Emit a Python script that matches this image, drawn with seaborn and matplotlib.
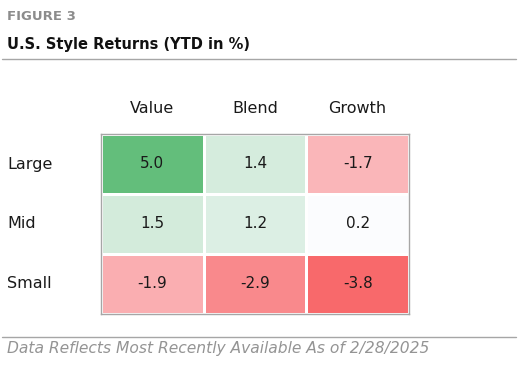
import numpy as np
import pandas as pd
import matplotlib.pyplot as plt
import seaborn as sns
from matplotlib.colors import LinearSegmentedColormap, TwoSlopeNorm
from matplotlib.lines import Line2D

sizes = ["Large", "Mid", "Small"]
styles = ["Value", "Blend", "Growth"]
value_col = [5.0, 1.5, -1.9]
blend_col = [1.4, 1.2, -2.9]
growth_col = [-1.7, 0.2, -3.8]

df = pd.DataFrame({"Value": value_col, "Blend": blend_col, "Growth": growth_col}, index=sizes)

sns.set_theme(style="white")
plt.rcParams['font.family'] = ['DejaVu Sans']

# excel style 3 colour scale, midpoint at the median
cmap = LinearSegmentedColormap.from_list("excel3", ["#F8696B", "#FCFCFF", "#63BE7B"])
vals = df.values.flatten()
norm = TwoSlopeNorm(vmin=vals.min(), vcenter=np.median(vals), vmax=vals.max())

fig = plt.figure(figsize=(5.27, 3.72), dpi=100)
ax = fig.add_axes([101/527, 1 - 314/372, 308/527, 180/372])

sns.heatmap(df, ax=ax, cmap=cmap, norm=norm, annot=True, fmt=".1f", cbar=False,
            linewidths=1, linecolor="white",
            annot_kws={"fontsize": 11, "color": "#1a1a1a"})

ax.xaxis.tick_top()
ax.tick_params(axis="x", length=0, pad=13, labelsize=11.5, labelcolor="#1a1a1a")
ax.tick_params(axis="y", length=0, pad=94 / (100 / 72), labelsize=11.5, labelcolor="#1a1a1a")
ax.set_xlabel("")
ax.set_ylabel("")
for lab in ax.get_yticklabels():
    lab.set_rotation(0)
    lab.set_ha("left")
for lab in ax.get_xticklabels():
    lab.set_rotation(0)

for s in ax.spines.values():
    s.set_visible(True)
    s.set_color("#A6A6A6")
    s.set_linewidth(1)

fig.text(7/527, 1 - 17/372, "FIGURE 3", fontsize=9.5, fontweight="bold", color="#8C8C8C", va="center")
fig.text(7/527, 1 - 45/372, "U.S. Style Returns (YTD in %)", fontsize=10.5, fontweight="bold", color="#111111", va="center")
fig.add_artist(Line2D([2/527, 516/527], [1 - 59/372, 1 - 59/372], color="#A6A6A6", lw=1))
fig.add_artist(Line2D([2/527, 516/527], [1 - 337/372, 1 - 337/372], color="#A6A6A6", lw=1))
fig.text(7/527, 1 - 349/372, "Data Reflects Most Recently Available As of 2/28/2025", fontsize=11.2,
         fontstyle="italic", color="#949494", va="center")

fig.savefig("out.png", dpi=100)
